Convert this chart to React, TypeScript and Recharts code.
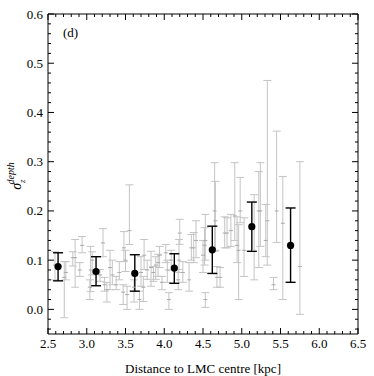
import { ScatterChart, Scatter, XAxis, YAxis, ErrorBar, ReferenceLine } from "recharts";

// grey points: individual fields
const greyX = [
  2.59, 2.71, 2.73, 2.82, 2.85, 2.91, 2.94, 3.04, 3.05, 3.07, 3.17, 3.21, 3.23, 3.26, 3.3,
  3.33, 3.38, 3.42, 3.47, 3.48, 3.5, 3.52, 3.55, 3.61, 3.68, 3.7, 3.73, 3.74, 3.78, 3.83,
  3.86, 3.89, 3.92, 3.94, 3.97, 4.02, 4.04, 4.06, 4.09, 4.18, 4.19, 4.2, 4.24, 4.32, 4.35,
  4.38, 4.41, 4.5, 4.52, 4.53, 4.53, 4.65, 4.66, 4.68, 4.72, 4.78, 4.81, 4.86, 4.91, 4.94,
  4.96, 4.98, 5.03, 5.16, 5.22, 5.24, 5.31, 5.33, 5.41, 5.45, 5.53, 5.75,
];
const greyY = [
  0.09, 0.065, 0.075, 0.105, 0.105, 0.08, 0.13, 0.045, 0.08, 0.1, 0.07, 0.135, 0.05, 0.04, 0.085,
  0.07, 0.05, 0.075, 0.035, 0.125, 0.1, 0.03, 0.16, 0.045, 0.02, 0.075, 0.045, 0.11, 0.08, 0.085,
  0.075, 0.09, 0.095, 0.11, 0.055, 0.115, 0.08, 0.02, 0.1, 0.06, 0.1, 0.155, 0.075, 0.06, 0.125,
  0.125, 0.14, 0.11, 0.13, 0.14, 0.02, 0.2, 0.18, 0.065, 0.065, 0.155, 0.155, 0.16, 0.19, 0.13,
  0.12, 0.2, 0.12, 0.12, 0.2, 0.2, 0.14, 0.18, 0.05, 0.2, 0.175, 0.087,
];
const greyLo = [
  0.06, -0.017, 0.06, 0.088, 0.045, 0.067, 0.115, 0.02, 0.036, 0.07, 0.057, 0.107, 0.037, 0.015, 0.04,
  0.05, 0.04, 0.06, 0.01, 0.097, 0.077, 0.0, 0.132, 0.015, 0.0, 0.047, 0.016, 0.081, 0.061, 0.047,
  0.057, 0.061, 0.067, 0.085, 0.04, 0.095, 0.055, 0.0, 0.08, 0.04, 0.075, 0.132, 0.055, 0.037, 0.1,
  0.095, 0.105, 0.075, 0.09, 0.1, 0.004, 0.118, 0.12, 0.045, 0.045, 0.125, 0.125, 0.128, 0.14, 0.095,
  0.02, 0.176, 0.067, 0.06, 0.085, 0.128, 0.107, 0.09, 0.04, 0.136, 0.02, -0.01,
];
const greyHi = [
  0.117, 0.097, 0.097, 0.117, 0.142, 0.095, 0.148, 0.06, 0.128, 0.117, 0.081, 0.164, 0.065, 0.055, 0.12,
  0.1, 0.067, 0.097, 0.05, 0.158, 0.12, 0.047, 0.253, 0.06, 0.037, 0.107, 0.067, 0.142, 0.1, 0.118,
  0.087, 0.107, 0.112, 0.128, 0.067, 0.132, 0.1, 0.034, 0.12, 0.081, 0.142, 0.183, 0.097, 0.095, 0.152,
  0.156, 0.18, 0.14, 0.166, 0.193, 0.034, 0.298, 0.26, 0.087, 0.085, 0.188, 0.186, 0.193, 0.298, 0.188,
  0.172, 0.268, 0.186, 0.233, 0.28, 0.298, 0.213, 0.465, 0.065, 0.362, 0.27, 0.3,
];

// binned averages (black)
const binX = [2.63, 3.12, 3.62, 4.13, 4.62, 5.13, 5.63];
const binY = [0.087, 0.077, 0.073, 0.084, 0.121, 0.168, 0.13];
const binLo = [0.058, 0.048, 0.037, 0.053, 0.073, 0.118, 0.055];
const binHi = [0.115, 0.107, 0.111, 0.113, 0.169, 0.218, 0.206];

const xMajor = [2.5, 3.0, 3.5, 4.0, 4.5, 5.0, 5.5, 6.0, 6.5];
const yMajor = [0.0, 0.1, 0.2, 0.3, 0.4, 0.5, 0.6];

const xTicks: number[] = [];
for (let i = 0; i <= 40; i++) xTicks.push(Math.round((2.5 + i * 0.1) * 100) / 100);
const yTicks: number[] = [];
for (let i = -2; i <= 30; i++) yTicks.push(Math.round(i * 0.02 * 100) / 100);

const greyData = greyX.map((x, i) => ({
  x,
  y: greyY[i],
  err: [greyY[i] - greyLo[i], greyHi[i] - greyY[i]],
}));
const binData = binX.map((x, i) => ({
  x,
  y: binY[i],
  err: [binY[i] - binLo[i], binHi[i] - binY[i]],
}));

const W = 374;
const H = 376;
const TOP = 14;
const LEFT = 48;
const RIGHT = 358;
const BOTTOM = 334;
const FONT = "'Liberation Serif', 'DejaVu Serif', serif";

const isMajor = (v: number, list: number[]) => list.some((m) => Math.abs(m - v) < 1e-6);

const XTick = (props: any) => {
  const { x, y, payload } = props;
  const major = isMajor(payload.value, xMajor);
  const len = major ? 6 : 3;
  return (
    <g>
      <line x1={x} x2={x} y1={y} y2={y - len} stroke="#000" strokeWidth={1} />
      <line x1={x} x2={x} y1={TOP} y2={TOP + len} stroke="#000" strokeWidth={1} />
      {major && (
        <text x={x} y={y + 14} textAnchor="middle" fontSize={13} fontFamily={FONT} fill="#000">
          {payload.value.toFixed(1)}
        </text>
      )}
    </g>
  );
};

const YTick = (props: any) => {
  const { x, y, payload } = props;
  const major = isMajor(payload.value, yMajor);
  const len = major ? 6 : 3;
  return (
    <g>
      <line x1={x} x2={x + len} y1={y} y2={y} stroke="#000" strokeWidth={1} />
      <line x1={RIGHT} x2={RIGHT - len} y1={y} y2={y} stroke="#000" strokeWidth={1} />
      {major && (
        <text x={x - 5} y={y + 4.5} textAnchor="end" fontSize={13} fontFamily={FONT} fill="#000">
          {payload.value.toFixed(1)}
        </text>
      )}
    </g>
  );
};

const YLabel = () => (
  <text
    transform={`translate(21, ${(TOP + BOTTOM) / 2 + 2}) rotate(-90)`}
    textAnchor="middle"
    fontFamily={FONT}
    fill="#000"
    fontStyle="italic"
  >
    <tspan fontSize={14}>σ</tspan>
    <tspan fontSize={9} dy={4}>z</tspan>
    <tspan fontSize={10} dx={-5} dy={-11}>depth</tspan>
  </text>
);

const GreyMark = (props: any) => {
  const { cx, cy } = props;
  return <line x1={cx - 2} x2={cx + 2} y1={cy} y2={cy} stroke="#aaa" strokeWidth={1} />;
};

const BinMark = (props: any) => {
  const { cx, cy } = props;
  return <circle cx={cx} cy={cy} r={3.6} fill="#000" />;
};

export default function App() {
  return (
    <div style={{ position: "absolute", left: 0, top: 0, width: W, height: H, background: "#fff" }}>
      <ScatterChart
        width={W}
        height={H}
        margin={{ top: TOP, right: W - RIGHT, bottom: 0, left: 0 }}
      >
        <XAxis
          type="number"
          dataKey="x"
          domain={[2.5, 6.5]}
          ticks={xTicks}
          interval={0}
          allowDataOverflow
          tickSize={0}
          tickMargin={0}
          tickLine={false}
          tick={<XTick />}
          height={H - BOTTOM}
          axisLine={{ stroke: "#000" }}
          label={{
            value: "Distance to LMC centre [kpc]",
            position: "insideBottom",
            offset: 3,
            fill: "#000",
            fontSize: 13,
            fontFamily: FONT,
          }}
        />
        <YAxis
          type="number"
          dataKey="y"
          domain={[-0.05, 0.6]}
          ticks={yTicks}
          interval={0}
          allowDataOverflow
          tickSize={0}
          tickMargin={0}
          tickLine={false}
          tick={<YTick />}
          width={LEFT}
          axisLine={{ stroke: "#000" }}
          label={{ content: <YLabel /> }}
        />
        <ReferenceLine y={0.6} stroke="#000" strokeWidth={1} />
        <ReferenceLine x={6.5} stroke="#000" strokeWidth={1} />
        <Scatter data={greyData} shape={<GreyMark />} isAnimationActive={false}>
          <ErrorBar dataKey="err" direction="y" width={4} stroke="#c4c4c4" strokeWidth={1} isAnimationActive={false} />
        </Scatter>
        <Scatter data={binData} shape={<BinMark />} isAnimationActive={false}>
          <ErrorBar dataKey="err" direction="y" width={5} stroke="#000" strokeWidth={1.4} isAnimationActive={false} />
        </Scatter>
      </ScatterChart>
      <div
        style={{
          position: "absolute",
          left: 63,
          top: 26,
          fontFamily: FONT,
          fontSize: 13,
          color: "#000",
          lineHeight: "14px",
        }}
      >
        (d)
      </div>
    </div>
  );
}
